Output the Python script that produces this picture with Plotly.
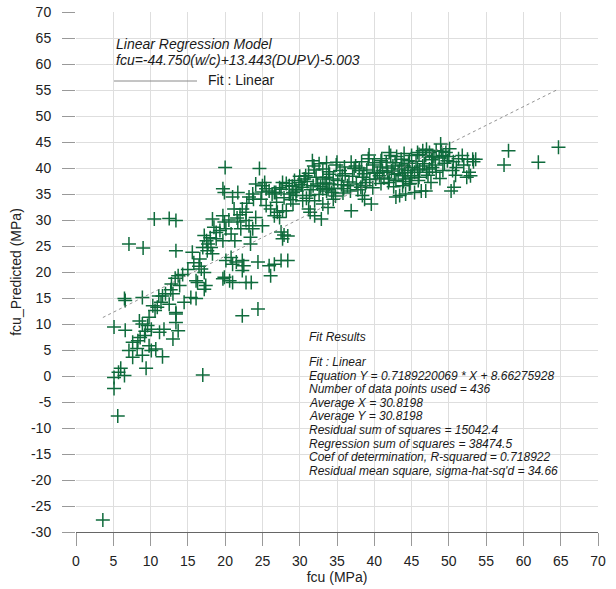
import plotly.graph_objects as go

# ---- data ----
fcu = [
    3.6, 5.6, 5.1, 5.1, 6.0, 6.5, 5.7, 9.4, 17.0, 7.1, 8.9, 10.1, 10.7, 11.6, 8.3, 9.2, 9.8,
    5.1, 6.6, 8.5, 8.9, 10.1, 11.2, 11.8, 13.0, 13.7, 13.4, 13.4, 9.6, 7.6,
    6.5, 6.6, 8.9, 10.3, 10.9, 11.1, 11.6, 13.0, 12.5, 13.4, 14.5, 15.4, 16.1, 12.8, 13.3, 13.7,
    16.1, 16.3, 16.8, 17.2, 17.4, 17.2, 16.5, 17.0, 17.2, 17.7, 18.1, 18.3, 15.6, 13.4, 17.6,
    19.7, 19.9, 20.6, 21.0, 20.1, 20.8, 21.0, 21.5, 22.3, 22.5, 22.3, 22.8, 23.5, 24.4, 26.1,
    25.9, 26.6, 27.5, 28.4, 22.3, 24.4, 7.1, 9.0, 10.5, 12.5, 13.4,
    18.3, 18.5, 19.7, 19.9, 20.1, 19.7, 19.9, 20.0, 24.6, 21.0, 21.7, 21.2, 22.3, 22.8, 23.2,
    23.7, 24.1, 25.0, 25.3, 24.8, 25.5, 26.1, 26.6, 27.0, 27.3, 27.7, 28.2, 22.8, 23.2, 23.7,
    24.1, 25.0, 21.7, 22.1, 20.8, 21.3, 23.4, 23.4, 18.8, 19.7, 27.5, 27.9, 28.4, 27.7,
    25.9, 26.6, 27.5, 27.7, 28.6, 29.1, 29.5, 29.3, 29.9, 30.6, 30.8, 30.4, 31.7, 31.9, 32.6,
    33.1, 33.6, 34.0, 34.3, 34.5, 35.0, 35.4, 35.7, 35.9, 36.4, 36.9, 31.4, 32.0, 32.9, 31.2,
    33.6, 33.1, 32.4, 33.1, 34.0, 34.5, 29.5, 28.6, 26.8, 29.1, 30.4, 31.3, 32.0, 33.1, 33.8,
    36.9, 37.5, 38.0, 38.4, 38.9, 38.2, 38.4, 38.7, 39.6, 39.3, 40.0, 40.2, 40.7, 40.9, 41.1,
    41.6, 41.8, 42.0, 42.2, 42.5, 42.7, 42.9, 43.4, 43.6, 43.8, 44.0, 44.2, 44.5, 44.7, 44.9,
    45.1, 45.4, 45.8, 46.0, 46.5, 47.0, 47.4, 45.8, 46.5, 46.9, 47.4, 47.8, 48.3, 48.9, 49.2,
    49.6, 49.8, 50.1, 49.2, 50.5, 51.0, 51.8, 52.5, 53.2, 53.6, 52.7, 52.4, 52.9, 50.3, 50.7,
    46.9, 46.3, 45.4, 44.2, 42.9, 43.4, 57.4, 58.0, 62.0, 64.7, 48.3, 47.8, 44.7, 43.8,
    30.2, 31.0, 31.5, 32.2, 32.8, 33.4, 33.9, 34.6, 35.1, 35.6, 36.1, 36.6, 37.1, 37.6, 38.0,
    38.6, 39.0, 39.4, 39.8, 40.4, 40.8, 41.3, 41.7, 42.3, 42.8, 43.2, 43.7, 44.1, 44.6, 45.0,
    45.6, 46.1, 46.7, 47.2, 47.7, 48.2, 48.7, 49.4, 50.0, 50.6, 51.3, 37.3, 38.3, 39.2, 40.0,
    41.0, 42.0, 43.0, 44.0, 45.0, 46.0, 47.0, 48.0, 49.0, 36.0, 34.9, 33.6, 32.0, 31.2, 30.0,
    29.0, 28.2, 27.3, 26.3, 25.5, 24.9, 23.8, 22.9, 22.0, 21.6, 20.5, 19.3, 18.8, 18.0, 17.5,
    16.6, 15.8, 15.0, 14.3, 13.9, 12.7, 12.0, 11.4, 10.6, 9.8, 9.3, 8.6, 8.2, 7.6,
    26.9, 27.9, 28.8, 29.6, 30.9, 31.8, 32.6, 33.8, 34.8, 35.8, 36.8, 37.8, 38.8, 39.8, 40.9,
    41.9, 42.6, 43.9, 44.8, 45.9, 47.6, 48.8, 50.9, 52.0, 53.3,
]
fcu_predicted = [
    -27.7, -7.7, -2.4, -0.3, 1.5, 0.1, 0.7, 1.5, 0.2, 4.9, 4.0, 4.9, 5.2, 3.7, 6.8, 7.8, 5.8,
    9.4, 8.8, 10.6, 10.0, 9.0, 8.4, 9.0, 7.1, 8.7, 10.3, 12.2, 9.7, 6.5,
    14.9, 14.5, 15.1, 13.5, 13.2, 15.4, 15.4, 15.8, 13.8, 11.9, 14.2, 15.1, 14.9, 17.7, 18.8, 19.3,
    18.3, 18.0, 20.6, 19.9, 17.4, 16.7, 21.1, 24.7, 27.0, 25.4, 24.7, 23.5, 23.8, 24.1, 24.1,
    18.7, 19.0, 18.3, 18.0, 22.2, 22.8, 21.5, 21.9, 22.2, 21.2, 20.3, 18.0, 18.0, 21.9, 19.3,
    21.2, 21.5, 22.2, 22.2, 11.6, 12.9, 25.4, 24.6, 30.2, 30.3, 29.9,
    30.2, 28.6, 30.8, 29.6, 28.3, 36.0, 35.3, 40.1, 39.9, 34.4, 35.3, 32.1, 32.1, 31.5, 34.4,
    35.0, 36.9, 36.6, 37.2, 34.0, 32.8, 32.1, 30.8, 31.5, 30.5, 31.8, 31.8, 29.9, 28.9, 28.3,
    30.5, 28.9, 29.6, 28.3, 27.3, 26.0, 26.7, 25.4, 26.4, 26.0, 27.7, 27.1, 26.9, 26.4,
    35.6, 35.3, 35.9, 37.2, 36.6, 35.3, 35.9, 37.6, 37.2, 37.9, 38.5, 36.3, 41.4, 40.4, 40.8,
    39.8, 38.2, 36.9, 35.3, 34.0, 41.1, 39.5, 38.5, 36.0, 36.6, 31.8, 31.5, 30.8, 30.2, 32.1,
    35.6, 36.0, 36.9, 37.9, 38.8, 37.9, 34.7, 35.0, 35.3, 33.1, 33.7, 34.7, 33.7, 33.1, 32.4,
    41.1, 40.4, 39.5, 38.2, 37.2, 36.3, 34.7, 34.0, 33.1, 42.5, 39.2, 37.9, 38.5, 41.4, 39.5,
    41.1, 39.2, 37.9, 42.4, 40.4, 38.8, 37.6, 39.8, 41.7, 38.5, 40.4, 37.9, 39.5, 41.4, 38.5,
    40.1, 39.2, 39.8, 38.2, 40.4, 39.2, 39.8, 43.0, 43.3, 42.4, 43.0, 42.1, 43.3, 44.6, 42.4,
    43.0, 41.4, 43.7, 39.5, 39.5, 40.1, 42.4, 41.7, 41.7, 41.7, 39.2, 38.2, 38.5, 35.6, 36.3,
    35.6, 35.6, 35.3, 35.0, 34.4, 34.7, 40.6, 43.3, 41.1, 44.0, 39.2, 40.1, 36.9, 36.6,
    36.8, 37.4, 35.8, 38.2, 36.4, 37.1, 39.3, 36.1, 37.6, 36.8, 38.9, 37.3, 38.4, 36.9, 40.0,
    38.9, 39.6, 37.8, 40.6, 39.0, 40.2, 38.1, 40.0, 39.4, 41.0, 38.9, 40.6, 39.1, 40.9, 38.1,
    41.3, 39.6, 40.8, 38.6, 41.6, 40.6, 41.9, 40.9, 42.2, 41.2, 41.8, 39.9, 41.2, 41.8, 41.0,
    41.8, 43.0, 42.2, 42.8, 42.4, 42.6, 43.6, 42.2, 43.2, 40.2, 40.6, 41.0, 39.6, 39.0, 38.4,
    36.5, 37.0, 36.2, 35.0, 36.0, 35.4, 34.0, 33.2, 31.0, 30.4, 30.0, 28.0, 27.6, 26.6, 26.0,
    22.5, 21.8, 20.5, 19.5, 17.4, 16.6, 15.8, 14.2, 12.6, 11.3, 8.6, 7.4, 5.3, 3.6,
    33.4, 34.3, 33.9, 35.6, 34.2, 36.6, 34.9, 35.9, 34.6, 35.2, 35.6, 35.8, 36.6, 36.2, 37.0,
    37.2, 36.4, 37.4, 37.0, 37.6, 37.2, 38.0, 38.6, 40.6, 41.2,
]

fit_slope = 0.7189220069
fit_intercept = 8.66275928

x_ticks = list(range(0, 75, 5))
y_ticks = list(range(-30, 75, 5))
x_tick_labels = [str(v) for v in x_ticks]
y_tick_labels = [str(v) for v in y_ticks]  # plain hyphen-minus as in the reference

header_lines = ["Linear Regression Model", "fcu=-44.750(w/c)+13.443(DUPV)-5.003"]
fit_lines = [
    "Fit Results",
    "Fit : Linear",
    "Equation Y = 0.7189220069 * X + 8.66275928",
    "Number of data points used = 436",
    "Average X = 30.8198",
    "Average Y = 30.8198",
    "Residual sum of squares = 15042.4",
    "Regression sum of squares = 38474.5",
    "Coef of determination, R-squared = 0.718922",
    "Residual mean square, sigma-hat-sq'd = 34.66",
]

# ---- layout geometry (pixels) ----
W, H = 616, 589
L, R, T, B = 76, 18, 12, 57
PW, PH = W - L - R, H - T - B


def px(xp):
    return (xp - L) / PW


def py(yp):
    return (H - B - yp) / PH


FONT = "Arial, 'Liberation Sans', sans-serif"
GREEN = "#0f6b3c"

fig = go.Figure()

fig.add_trace(go.Scatter(
    x=fcu, y=fcu_predicted, mode="markers",
    marker=dict(symbol="cross-thin-open", size=10, color=GREEN,
                line=dict(color=GREEN, width=1.5)),
    showlegend=False, hoverinfo="skip",
))

x_lo, x_hi = min(fcu), max(fcu)
fig.add_trace(go.Scatter(
    x=[x_lo, x_hi], y=[fit_slope * x_lo + fit_intercept, fit_slope * x_hi + fit_intercept],
    mode="lines", line=dict(color="#777777", width=0.8, dash="dot"),
    showlegend=False, hoverinfo="skip",
))

annotations = []
for txt, yp in zip(header_lines, [44, 60]):
    annotations.append(dict(text=txt, x=px(114), y=py(yp), xref="paper", yref="paper",
                            xanchor="left", yanchor="middle", showarrow=False,
                            font=dict(family=FONT, size=14, color="#1a1a1a", style="italic")))
annotations.append(dict(text="Fit : Linear", x=px(206), y=py(80), xref="paper", yref="paper",
                        xanchor="left", yanchor="middle", showarrow=False,
                        font=dict(family=FONT, size=14, color="#1a1a1a")))
fit_y = [336.7, 361.7, 375.7, 389.3, 402.7, 416.3, 430.0, 443.6, 457.3, 471.0]
for txt, yp in zip(fit_lines, fit_y):
    annotations.append(dict(text=txt, x=px(307), y=py(yp), xref="paper", yref="paper",
                            xanchor="left", yanchor="middle", showarrow=False,
                            font=dict(family=FONT, size=12, color="#1a1a1a", style="italic")))

fig.update_layout(
    width=W, height=H,
    margin=dict(l=L, r=R, t=T, b=B, pad=0),
    paper_bgcolor="white", plot_bgcolor="white",
    font=dict(family=FONT, size=14, color="#222222"),
    annotations=annotations,
    shapes=[dict(type="line", xref="paper", yref="paper", x0=px(114), x1=px(197),
                 y0=py(81), y1=py(81), line=dict(color="#8a8a8a", width=1))],
    xaxis=dict(range=[0, 70], tickvals=x_ticks, ticktext=x_tick_labels, ticks="outside",
               ticklen=13, tickcolor="#999999", tickwidth=1, showgrid=True,
               gridcolor="#dedede", gridwidth=1, zeroline=False, showline=True,
               linecolor="#666666", linewidth=1, ticklabelstandoff=3, automargin=False,
               title=dict(text="fcu (MPa)", standoff=4, font=dict(size=14))),
    yaxis=dict(range=[-30, 70], tickvals=y_ticks, ticktext=y_tick_labels, ticks="outside",
               ticklen=13, tickcolor="#999999", tickwidth=1, showgrid=True,
               gridcolor="#dedede", gridwidth=1, zeroline=False, showline=False,
               ticklabelstandoff=8, automargin=False,
               title=dict(text="fcu_Predicted (MPa)", standoff=6, font=dict(size=14))),
)

fig.write_html("out.html")
